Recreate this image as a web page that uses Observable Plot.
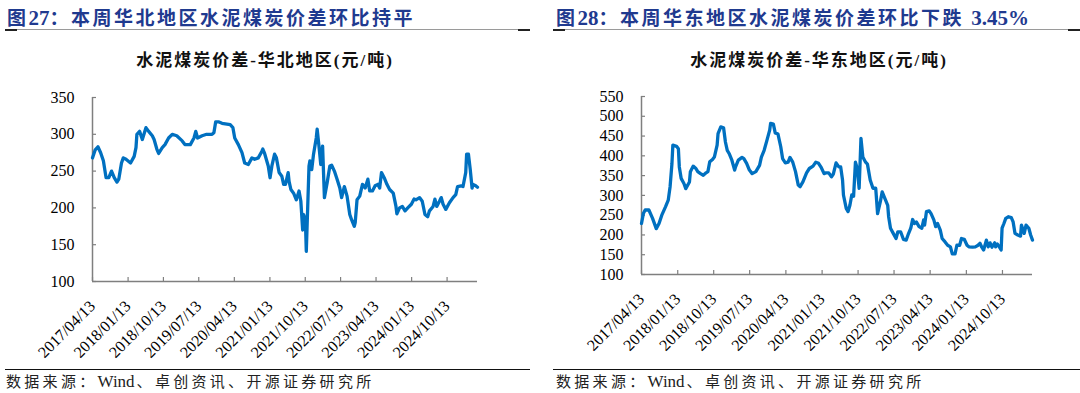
<!DOCTYPE html>
<html>
<head>
<meta charset="utf-8">
<script src="https://cdn.jsdelivr.net/npm/d3@7"></script>
<script src="https://cdn.jsdelivr.net/npm/@observablehq/plot@0.6"></script>
<style>
  html, body { margin: 0; padding: 0; background: #fff; }
  body { width: 1080px; height: 393px; position: relative; overflow: hidden;
         font-family: "Liberation Serif", "Noto Sans CJK SC", serif; }
  .panel { position: absolute; top: 0; height: 393px; }
  .title { position: absolute; top: 3px; font-size: 19px; font-weight: bold; color: #1f3a8f;
           letter-spacing: 2.5px; white-space: nowrap; }
  .title .lat { letter-spacing: 0; font-size: 21px; }
  .rule { position: absolute; top: 29px; height: 1px; background: #9a9a9a; }
  .cap { position: absolute; top: 29px; height: 1.5px; width: 12px; background: #222; }
  .ctitle { position: absolute; top: 46px; font-size: 17px; font-weight: bold; letter-spacing: 2px;
            white-space: nowrap; transform: translateX(-50%); color: #111; }
  .plot { position: absolute; top: 80px; }
  .srcline { position: absolute; top: 369px; height: 1px; background: #111; }
  .src { position: absolute; top: 370px; font-size: 15px; letter-spacing: 3.3px; white-space: nowrap; color: #222; }
  .src .lat { letter-spacing: 0; font-size: 17px; margin-right: 2px; }
</style>
</head>
<body>
<div class="panel" style="left:0;width:540px">
  <div class="title" style="left:7px">图<span class="lat">27</span>：本周华北地区水泥煤炭价差环比持平</div>
  <div class="rule" style="left:5px;width:525px"></div>
  <div class="cap" style="left:5px"></div>
  <div class="cap" style="left:518px"></div>
  <div class="ctitle" style="left:265px">水泥煤炭价差-华北地区(元/吨)</div>
  <div class="plot" id="north" style="left:0"></div>
  <div class="srcline" style="left:5px;width:525px"></div>
  <div class="src" style="left:6px">数据来源：<span class="lat">Wind</span>、卓创资讯、开源证券研究所</div>
</div>
<div class="panel" style="left:540px;width:540px">
  <div class="title" style="left:16px">图<span class="lat">28</span>：本周华东地区水泥煤炭价差环比下跌 <span class="lat">3.45%</span></div>
  <div class="rule" style="left:13px;width:527px"></div>
  <div class="cap" style="left:13px"></div>
  <div class="cap" style="left:528px"></div>
  <div class="ctitle" style="left:279px">水泥煤炭价差-华东地区(元/吨)</div>
  <div class="plot" id="east" style="left:0"></div>
  <div class="srcline" style="left:13px;width:527px"></div>
  <div class="src" style="left:16px">数据来源：<span class="lat">Wind</span>、卓创资讯、开源证券研究所</div>
</div>
<script>
// First observation date; series positions are weeks after this date
const startLabel = "2017/04/13";

// x-axis tick labels (every 9 months)
const tickLabels = ["2017/04/13","2018/01/13","2018/10/13","2019/07/13","2020/04/13","2021/01/13",
                    "2021/10/13","2022/07/13","2023/04/13","2024/01/13","2024/10/13"];

// y-axis ticks
const northYTicks = [100,150,200,250,300,350];
const eastYTicks = [100,150,200,250,300,350,400,450,500,550];

// 华北地区 (North China) — week index and value (元/吨)
const northWeeks = [0,3,6,9,12,15,18,21,24,27,29,32,34,37,42,46,48,49,52,55,59,62,66,68,71,73,77,80,84,88,
  93,99,102,108,112,114,116,121,126,132,134,136,139,143,152,155,157,161,165,168,172,176,179,183,187,188,190,194,196,198,
  201,203,206,209,211,213,216,217,219,222,225,228,230,232,233,235,236,239,240,242,244,247,248,250,252,254,256,259,262,264,
  267,270,273,275,278,281,284,286,289,290,292,295,298,301,304,306,309,312,315,317,319,322,325,328,332,335,336,339,342,345,
  348,352,355,357,361,364,367,370,372,376,378,380,383,385,387,390,394,398,401,403,407,409,412,413,415,417,419,420,423,425];
const northValues = [268,279,283,275,264,241,241,250,241,235,239,261,268,266,261,270,282,300,304,293,309,304,298,293,280,274,282,286,295,300,
  298,291,286,286,295,304,295,298,300,300,302,317,317,315,313,309,295,286,275,261,259,268,266,268,277,280,274,257,241,257,
  273,268,248,243,232,232,248,236,225,220,211,223,209,170,191,184,141,257,264,252,273,295,307,284,259,284,214,234,257,258,
  250,239,227,214,229,216,191,184,175,180,211,216,232,227,239,223,223,230,232,227,248,241,232,225,220,202,192,200,202,196,
  200,205,212,211,214,209,191,188,196,202,212,202,209,214,205,198,207,214,218,229,230,229,248,273,273,252,227,232,230,228];

// 华东地区 (East China) — week index and value (元/吨)
const eastWeeks = [0,2,4,8,12,16,19,22,26,29,31,33,34,38,40,41,43,46,48,52,53,56,59,61,64,67,70,72,74,77,
  79,82,83,86,89,91,93,95,98,101,102,105,109,111,114,117,120,124,128,130,133,136,139,140,143,145,148,151,153,156,
  159,161,164,167,170,172,175,179,182,186,189,192,195,198,200,203,206,208,211,214,216,218,219,222,224,226,228,230,232,234,
  236,238,240,243,245,248,251,254,256,259,261,264,267,268,270,273,276,278,281,284,287,289,292,294,296,298,301,304,306,307,
  309,312,314,317,319,321,324,326,329,332,335,337,340,342,345,347,350,353,355,359,362,365,367,369,371,374,376,378,380,383,
  384,386,388,390,391,393,395,398,401,403,405,408,411,412,415,417,420,422,424];
const eastValues = [229,254,263,263,242,216,229,250,271,288,322,380,427,424,418,372,343,330,317,334,360,374,368,360,355,351,357,360,385,391,
  397,427,456,473,471,435,414,406,389,364,372,389,396,393,381,364,355,360,376,397,414,439,465,482,480,458,455,423,393,382,
  384,396,384,360,326,322,334,357,368,374,384,381,370,355,357,357,347,354,382,372,372,339,301,267,259,275,301,298,384,368,
  318,444,397,384,379,339,318,318,254,284,309,292,275,246,217,204,191,208,208,189,187,200,217,239,229,233,221,217,238,225,
  259,261,254,238,221,229,212,191,183,174,170,152,152,174,174,191,189,174,170,169,170,174,179,169,162,187,170,180,169,180,
  170,177,170,162,217,229,242,246,244,233,204,200,197,225,204,225,217,200,187];

const parse = d3.utcParse("%Y/%m/%d");
const fmt = d3.utcFormat("%Y/%m/%d");
const start = parse(startLabel);
const tickDates = tickLabels.map(parse);

function chart(weeks, values, yTicks, m) {
  const data = weeks.map((w, i) => ({date: d3.utcDay.offset(start, w * 7), value: values[i]}));
  const yDomain = [yTicks[0], yTicks[yTicks.length - 1]];
  return Plot.plot({
    width: 540,
    height: 290,
    marginLeft: m.left,
    marginRight: m.right,
    marginTop: m.top,
    marginBottom: m.bottom,
    style: {fontFamily: "'Liberation Serif', 'Times New Roman', serif", fontSize: "16px", color: "#000", background: "transparent", overflow: "visible"},
    x: {type: "utc", domain: [start, data[data.length - 1].date], label: null},
    y: {domain: yDomain, label: null},
    marks: [
      Plot.axisY({ticks: yTicks, label: null, tickSize: -4, tickPadding: 22, stroke: "#7f7f7f", strokeWidth: 1.2, fill: "#000", fontSize: 16, tickFormat: d => String(d)}),
      Plot.axisX({ticks: tickDates, label: null, tickSize: -4, tickPadding: 26, tickRotate: -45, stroke: "#7f7f7f", strokeWidth: 1.2, fill: "#000", fontSize: 16, tickFormat: fmt}),
      Plot.ruleY([yDomain[0]], {stroke: "#7f7f7f", strokeWidth: 1.5}),
      Plot.ruleX([start], {stroke: "#7f7f7f", strokeWidth: 1.5}),
      Plot.line(data, {x: "date", y: "value", stroke: "#0070c0", strokeWidth: 3.3, strokeLinejoin: "round"})
    ]
  });
}

document.getElementById("north").append(
  chart(northWeeks, northValues, northYTicks, {left: 92, right: 63, top: 17, bottom: 89}));
document.getElementById("east").append(
  chart(eastWeeks, eastValues, eastYTicks, {left: 101, right: 48, top: 16, bottom: 96}));
</script>
</body>
</html>
